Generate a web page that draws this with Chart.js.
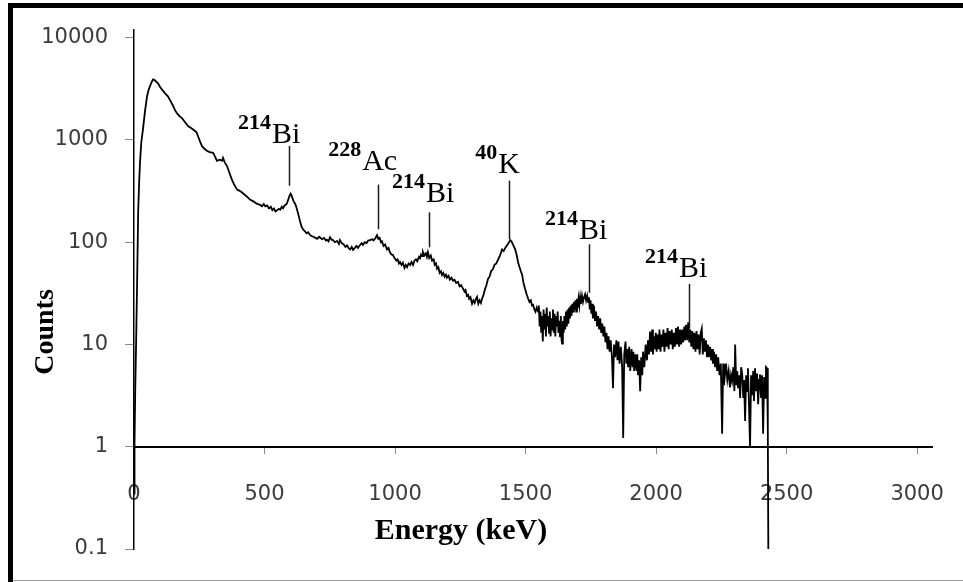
<!DOCTYPE html>
<html>
<head>
<meta charset="utf-8">
<title>Gamma spectrum</title>
<script src="https://cdn.jsdelivr.net/npm/chart.js@4.4.0/dist/chart.umd.min.js"></script>
<style>
  html, body { margin: 0; padding: 0; background: #fff; }
  #wrap { position: relative; width: 963px; height: 582px; }
</style>
</head>
<body>
<div id="wrap"><canvas id="spectrum" width="963" height="582"></canvas></div>
<script>
// [energy keV, counts] — rise, Compton continuum and the 609 keV region
const lowEnergyPart = [
  [0, 0.35], [2, 1.1], [5, 4], [8, 10], [12, 41], [16, 200], [20, 400], [23, 600], [28, 950],
  [34, 1250], [42, 1900], [50, 2675], [56, 3100], [61, 3342], [67, 3650], [73, 3910], [79, 3850],
  [86, 3700], [92, 3575], [100, 3300], [110, 3050], [119, 2860], [130, 2675], [140, 2400],
  [150, 2150], [157, 1955], [165, 1820], [175, 1700], [184, 1635], [195, 1500], [207, 1367],
  [220, 1300], [234, 1222], [240, 1180], [245, 1093], [252, 980], [260, 875], [270, 820],
  [280, 782], [290, 760], [303, 748], [310, 690], [318, 625], [328, 640], [337, 625], [341, 668],
  [348, 600], [356, 559], [365, 480], [375, 409], [385, 360], [395, 327], [405, 318], [414, 306],
  [425, 290], [437, 273], [444, 261], [452, 255], [460, 248], [468, 240], [475, 236], [483, 232],
  [490, 225], [497, 236], [503, 224], [510, 229], [517, 214], [524, 222], [530, 206], [536, 214],
  [542, 200], [548, 205], [555, 212], [560, 208], [566, 222], [571, 215], [576, 228], [581, 232],
  [586, 240], [591, 262], [596, 285], [600, 298], [604, 285], [608, 265], [612, 250], [617, 238],
  [621, 225], [625, 207], [630, 185], [636, 160], [642, 142], [648, 133], [655, 128], [661, 122],
  [667, 125], [674, 118], [680, 115], [687, 113], [693, 111], [701, 108]
];

// 700 - 1550 keV: 911 Ac, 1120 Bi and the 1460 K peak
const midEnergyPart = [
  [710, 113], [720, 107], [728, 110], [735, 104], [739, 106], [745, 102], [751, 112], [757, 106],
  [762, 105], [770, 100], [778, 103], [785, 96], [789, 105], [796, 98], [803, 95], [810, 90],
  [816, 93], [823, 87], [828, 85], [834, 90], [839, 84], [846, 88], [852, 92], [858, 88],
  [866, 94], [872, 98], [877, 94], [884, 100], [891, 98], [897, 104], [904, 105], [912, 107],
  [918, 104], [925, 110], [931, 117], [936, 108], [941, 110], [946, 100], [950, 102], [956, 92],
  [962, 95], [969, 85], [975, 88], [980, 80], [986, 76], [992, 75], [998, 70], [1005, 66],
  [1010, 68], [1015, 62], [1019, 64], [1025, 60], [1030, 63], [1036, 56], [1041, 60], [1046, 57],
  [1052, 62], [1058, 60], [1063, 64], [1069, 60], [1074, 66], [1080, 68], [1085, 65], [1088, 68],
  [1092, 72], [1096, 70], [1100, 76], [1104, 73], [1107, 80], [1112, 74], [1118, 78], [1122, 72],
  [1126, 80], [1131, 70], [1137, 74], [1142, 66], [1148, 68], [1152, 60], [1157, 62], [1161, 55],
  [1166, 57], [1171, 50], [1176, 52], [1180, 47.8], [1185, 50], [1190, 46], [1195, 48], [1199, 45],
  [1205, 47], [1210, 43], [1216, 45], [1222, 42], [1228, 43], [1234, 40], [1241, 41], [1247, 37],
  [1253, 38], [1261, 35], [1266, 33], [1270, 34], [1275, 30], [1280, 30.6], [1284, 28], [1289, 29],
  [1295, 25], [1300, 27], [1305, 25.5], [1310, 28], [1314, 29.2], [1319, 25], [1324, 27],
  [1329, 25.5], [1333, 28], [1338, 30], [1345, 35], [1350, 38], [1356, 43.7], [1362, 46],
  [1368, 52], [1375, 54.7], [1381, 60], [1388, 62], [1395, 68], [1402, 74], [1410, 85], [1416, 82],
  [1422, 88], [1429, 93.5], [1435, 98], [1441, 105], [1446, 102], [1451, 96], [1456, 90],
  [1460, 85.5], [1466, 75], [1471, 64], [1477, 57], [1482, 52], [1487, 47.8], [1492, 40],
  [1498, 35], [1504, 31], [1510, 28], [1515, 26], [1520, 27], [1525, 24], [1529, 24.4], [1534, 22],
  [1538, 20.9], [1543, 23], [1548, 21]
];

// above 1550 keV the statistics get poor: 1764 and 2204 Bi, then cut-off
const highEnergyPart = [
  [1551, 24], [1554, 15], [1557, 21], [1560, 13], [1563, 19], [1566, 10.7], [1569, 22], [1572, 14],
  [1575, 20], [1578, 12], [1581, 23], [1584, 15], [1587, 19], [1590, 13], [1593, 21], [1596, 12],
  [1599, 18], [1602, 14], [1605, 22], [1608, 13], [1611, 20], [1614, 12], [1617, 19], [1620, 15],
  [1623, 21], [1626, 13], [1629, 17], [1632, 12], [1635, 19], [1638, 11], [1640, 10.2], [1643, 17],
  [1646, 13], [1649, 19], [1652, 14], [1655, 21], [1658, 15], [1661, 22], [1664, 16], [1667, 23],
  [1670, 18], [1673, 24], [1676, 19], [1679, 25], [1682, 21], [1685, 26], [1688, 22], [1691, 27],
  [1694, 21], [1697, 28], [1700, 23], [1703, 28], [1706, 24], [1709, 29], [1712, 25], [1716, 30],
  [1720, 26], [1724, 29], [1728, 31], [1732, 27], [1736, 30], [1740, 26], [1743, 29], [1746, 22],
  [1749, 27], [1752, 20], [1755, 25], [1758, 18], [1762, 24], [1766, 17], [1770, 21], [1774, 15],
  [1778, 19], [1782, 14], [1786, 18], [1790, 13], [1794, 16], [1798, 12], [1802, 15], [1806, 10.5],
  [1810, 13], [1814, 9], [1818, 12], [1822, 8.5], [1826, 11], [1831, 7.5], [1835, 3.74], [1839, 10],
  [1843, 7.5], [1848, 11], [1852, 7], [1856, 10.7], [1860, 6.5], [1865, 9.5], [1870, 6],
  [1874, 1.22], [1878, 8], [1883, 10.7], [1886, 6.5], [1889, 9], [1893, 6], [1897, 9.5], [1901, 5.5],
  [1906, 9], [1910, 6], [1913, 8.5], [1916, 5.5], [1920, 8], [1925, 5.5], [1928, 8], [1931, 5],
  [1935, 7], [1939, 3.5], [1943, 7.5], [1947, 5], [1950, 8.5], [1955, 6], [1960, 10], [1965, 7],
  [1969, 11], [1973, 8], [1977, 13.4], [1981, 8.5], [1985, 14], [1988, 8], [1992, 12], [1995, 9],
  [1999, 13], [2002, 8.5], [2006, 12.5], [2010, 9], [2013, 14], [2017, 8.5], [2021, 12.5],
  [2025, 9.5], [2028, 14], [2032, 8.5], [2036, 13], [2040, 9.5], [2044, 14.5], [2048, 9],
  [2052, 13.5], [2056, 10], [2060, 14], [2064, 9], [2068, 13], [2072, 9.5], [2076, 14.5], [2080, 10],
  [2084, 15], [2088, 9.5], [2092, 14], [2096, 10], [2100, 14], [2104, 10.5], [2108, 15], [2111, 11],
  [2115, 15.6], [2119, 11], [2123, 16.5], [2127, 10.5], [2131, 14], [2135, 9.5], [2139, 13.5],
  [2143, 9], [2147, 13], [2151, 8.5], [2155, 13.5], [2159, 9], [2163, 12.5], [2167, 8], [2171, 13],
  [2175, 14.3], [2179, 8], [2183, 11.5], [2187, 8.5], [2191, 11], [2195, 7.5], [2199, 10],
  [2203, 7.5], [2207, 9.5], [2211, 7], [2215, 9], [2218, 6.5], [2222, 8.5], [2226, 6], [2230, 8],
  [2234, 5.5], [2238, 7.5], [2243, 5], [2248, 6.5], [2253, 1.34], [2257, 6.5], [2260, 4],
  [2264, 5.1], [2268, 6.5], [2273, 4.5], [2278, 5.5], [2283, 3.8], [2287, 5], [2291, 4.4], [2296, 6],
  [2300, 3.5], [2303, 10], [2307, 4], [2311, 5.5], [2314, 3.74], [2318, 5], [2322, 3], [2326, 6],
  [2330, 5.1], [2334, 3], [2337, 4.5], [2341, 1.79], [2345, 5], [2349, 3.5], [2352, 5.85],
  [2356, 2.5], [2360, 0.98], [2364, 5], [2368, 3.2], [2372, 5.5], [2375, 2.8], [2379, 5.85],
  [2383, 3.5], [2387, 5.2], [2391, 2.6], [2395, 4.5], [2398, 5.1], [2402, 3], [2406, 5], [2410, 1.34],
  [2414, 4.8], [2418, 3], [2421, 6], [2425, 5.85], [2428, 1.5], [2430, 0.1]
];

const energyTicks = [0, 500, 1000, 1500, 2000, 2500, 3000];
const countTicks = [0.1, 1, 10, 100, 1000, 10000];

// identified peaks: mass number, element, marker energy, marker top / bottom (counts)
const peakMass = ['214', '228', '214', '40', '214', '214'];
const peakElement = ['Bi', 'Ac', 'Bi', 'K', 'Bi', 'Bi'];
const peakEnergy = [594, 935, 1130, 1437, 1743, 2126];
const peakLineTop = [875, 366, 196, 400, 95.6, 39.1];
const peakLineBottom = [357, 134, 89, 107, 32, 14.3];

// where each element symbol starts (keV) and sits (counts at baseline)
const labelEnergy = [529, 874, 1119, 1395, 1705, 2088];
const labelCounts = [935, 511, 245, 478, 107, 45.7];

const spectrum = lowEnergyPart.concat(midEnergyPart, highEnergyPart).map(([x, y]) => ({ x, y }));

const serif = '"Liberation Serif", "Times New Roman", serif';

const peakMarks = {
  id: 'peakMarks',
  afterDatasetsDraw(chart) {
    const { ctx, scales: { x, y } } = chart;
    ctx.save();
    ctx.strokeStyle = '#1a1a1a';
    ctx.lineWidth = 1.5;
    ctx.fillStyle = '#000';
    ctx.textBaseline = 'alphabetic';
    peakEnergy.forEach((e, i) => {
      const px = Math.round(x.getPixelForValue(e)) + 0.5;
      ctx.beginPath();
      ctx.moveTo(px, y.getPixelForValue(peakLineTop[i]));
      ctx.lineTo(px, y.getPixelForValue(peakLineBottom[i]));
      ctx.stroke();

      const lx = x.getPixelForValue(labelEnergy[i]);
      const ly = y.getPixelForValue(labelCounts[i]);
      ctx.font = '30px ' + serif;
      ctx.textAlign = 'left';
      ctx.fillText(peakElement[i], lx, ly);
      ctx.font = 'bold 22px ' + serif;
      ctx.textAlign = 'right';
      ctx.fillText(peakMass[i], lx - 1, ly - 14);
    });
    ctx.restore();
  }
};

// page frame plus the two axis titles
const frameAndTitles = {
  id: 'frameAndTitles',
  beforeDraw(chart) {
    const { ctx, width, height } = chart;
    ctx.save();
    ctx.fillStyle = '#fff';
    ctx.fillRect(0, 0, width, height);
    ctx.restore();
  },
  afterDraw(chart) {
    const { ctx, width, height } = chart;
    ctx.save();
    ctx.fillStyle = '#000';
    ctx.fillRect(8, 3, width - 8, 5);
    ctx.fillRect(8, 3, 5, height - 3);
    ctx.fillStyle = '#9a9a9a';
    ctx.fillRect(13, height - 2, width - 13, 1);

    ctx.fillStyle = '#000';
    ctx.font = 'bold 30px ' + serif;
    ctx.textAlign = 'center';
    ctx.textBaseline = 'middle';
    ctx.fillText('Energy (keV)', 461, 531);

    ctx.font = 'bold 28px ' + serif;
    ctx.translate(46, 332);
    ctx.rotate(-Math.PI / 2);
    ctx.fillText('Counts', 0, 0);
    ctx.restore();
  }
};

const tickFont = { family: '"DejaVu Sans", sans-serif', size: 21 };

new Chart(document.getElementById('spectrum'), {
  type: 'line',
  data: {
    datasets: [{
      data: spectrum,
      borderColor: '#000',
      borderWidth: 1.8,
      pointRadius: 0,
      tension: 0,
      fill: false
    }]
  },
  options: {
    responsive: false,
    animation: false,
    devicePixelRatio: 1,
    layout: { padding: { left: 0, top: 25, right: 31, bottom: 33 } },
    plugins: { legend: { display: false }, tooltip: { enabled: false } },
    scales: {
      x: {
        type: 'linear',
        min: 0,
        max: 3057,
        position: { y: 1 },
        afterBuildTicks: (scale) => { scale.ticks = energyTicks.map((v) => ({ value: v })); },
        // the big label gap below the axis must not eat into the side margins
        afterFit: (scale) => { scale.paddingLeft = 0; scale.paddingRight = 0; },
        grid: { drawOnChartArea: false, drawTicks: true, tickLength: 6, color: '#8c8c8c' },
        border: { color: '#000', width: 2 },
        ticks: {
          padding: 29,
          color: '#3b3b3b',
          font: tickFont,
          maxRotation: 0,
          autoSkip: false,
          callback: (v) => String(v)
        }
      },
      y: {
        type: 'logarithmic',
        min: 0.1,
        max: 12000,
        afterBuildTicks: (scale) => { scale.ticks = countTicks.map((v) => ({ value: v })); },
        afterFit: (scale) => { scale.width = 134; },
        grid: { drawOnChartArea: false, drawTicks: true, tickLength: 9, color: '#8c8c8c' },
        border: { color: '#000', width: 1.5 },
        ticks: {
          padding: 17,
          color: '#3b3b3b',
          font: tickFont,
          autoSkip: false,
          callback: (v) => String(v)
        }
      }
    }
  },
  plugins: [peakMarks, frameAndTitles]
});
</script>
</body>
</html>
